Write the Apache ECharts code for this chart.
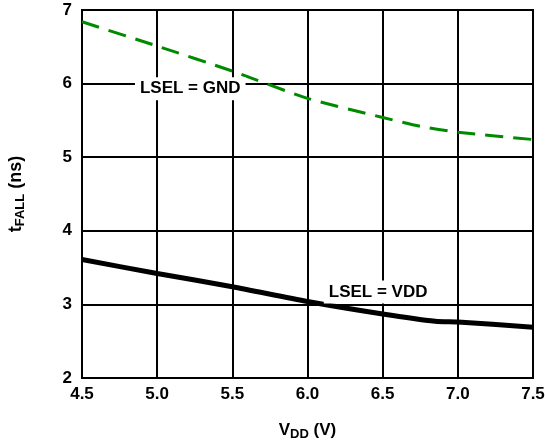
<!DOCTYPE html>
<html>
<head>
<meta charset="utf-8">
<script src="https://cdn.jsdelivr.net/npm/echarts@6/dist/echarts.min.js"></script>
<style>
html,body{margin:0;padding:0;background:#fff;}
#chart{width:545px;height:444px;}
</style>
</head>
<body>
<div id="chart"></div>
<script>
// Supply voltage (V)
const vddGnd = [4.5, 5.0, 5.5, 6.0, 6.5, 6.75, 7.0, 7.5];
const tFallGnd = [6.84, 6.51, 6.17, 5.80, 5.54, 5.42, 5.34, 5.24];
const vddVdd = [4.5, 5.0, 5.5, 6.0, 6.5, 6.85, 7.0, 7.5];
const tFallVdd = [3.61, 3.42, 3.24, 3.04, 2.87, 2.77, 2.76, 2.69];
const xTicks = ['4.5', '5.0', '5.5', '6.0', '6.5', '7.0', '7.5'];
const yTicks = ['2', '3', '4', '5', '6', '7'];
const labelGnd = { text: 'LSEL = GND', at: [5.22, 5.93] };
const labelVdd = { text: 'LSEL = VDD', at: [6.47, 3.17] };

const FONT = '"Liberation Sans", Arial, sans-serif';
const chart = echarts.init(document.getElementById('chart'), null, { renderer: 'canvas' });

function pairs(xs, ys) { return xs.map((x, i) => [x, ys[i]]); }
function annot(l) {
  return {
    symbol: 'none', symbolSize: 0,
    label: { show: false },
    data: [{
      coord: l.at, value: l.text, symbol: 'rect', symbolSize: 0,
      label: {
        show: true, position: 'inside', formatter: l.text,
        color: '#000', fontFamily: FONT, fontWeight: 'bold', fontSize: 17,
        backgroundColor: '#fff', padding: [3, 5, 3, 5]
      }
    }]
  };
}

chart.setOption({
  animation: false,
  backgroundColor: '#fff',
  grid: { left: 82, right: 12, top: 10, bottom: 66, containLabel: false, outerBoundsMode: 'none', show: true, borderColor: '#000', borderWidth: 2, backgroundColor: 'transparent' },
  xAxis: {
    type: 'value', min: 4.5, max: 7.5, interval: 0.5,
    name: '{m|V}{s|DD}{m| (V)}', nameLocation: 'middle', nameGap: 41,
    nameTextStyle: {
      rich: {
        m: { fontFamily: FONT, fontWeight: 'bold', fontSize: 17, color: '#000', lineHeight: 22 },
        s: { fontFamily: FONT, fontWeight: 'bold', fontSize: 13, color: '#000', lineHeight: 22, padding: [8, 0, 0, 0] }
      }
    },
    axisLine: { show: true, lineStyle: { color: '#000', width: 2 } },
    axisTick: { show: false },
    axisLabel: {
      color: '#000', fontFamily: FONT, fontWeight: 'bold', fontSize: 17, margin: 8,
      formatter: v => xTicks[Math.round((v - 4.5) / 0.5)]
    },
    splitLine: { show: true, lineStyle: { color: '#000', width: 2 } }
  },
  yAxis: {
    type: 'value', min: 2, max: 7, interval: 1,
    name: '{m|t}{s|FALL}{m| (ns)}', nameLocation: 'middle', nameGap: 55, nameRotate: 90,
    nameTextStyle: {
      rich: {
        m: { fontFamily: FONT, fontWeight: 'bold', fontSize: 18, color: '#000', lineHeight: 22 },
        s: { fontFamily: FONT, fontWeight: 'bold', fontSize: 13, color: '#000', lineHeight: 22, padding: [8, 0, 0, 0] }
      }
    },
    axisLine: { show: true, lineStyle: { color: '#000', width: 2 } },
    axisTick: { show: false },
    axisLabel: {
      color: '#000', fontFamily: FONT, fontWeight: 'bold', fontSize: 17, margin: 10,
      formatter: v => yTicks[Math.round(v - 2)]
    },
    splitLine: { show: true, lineStyle: { color: '#000', width: 2 } }
  },
  series: [
    {
      type: 'line', name: 'LSEL = GND', data: pairs(vddGnd, tFallGnd),
      showSymbol: false, smooth: 0.25,
      lineStyle: { color: '#008a00', width: 3, type: [18, 10] },
      markPoint: annot(labelGnd), z: 3
    },
    {
      type: 'line', name: 'LSEL = VDD', data: pairs(vddVdd, tFallVdd),
      showSymbol: false, smooth: 0.25,
      lineStyle: { color: '#000', width: 5 },
      markPoint: annot(labelVdd), z: 3
    }
  ]
});
</script>
</body>
</html>
